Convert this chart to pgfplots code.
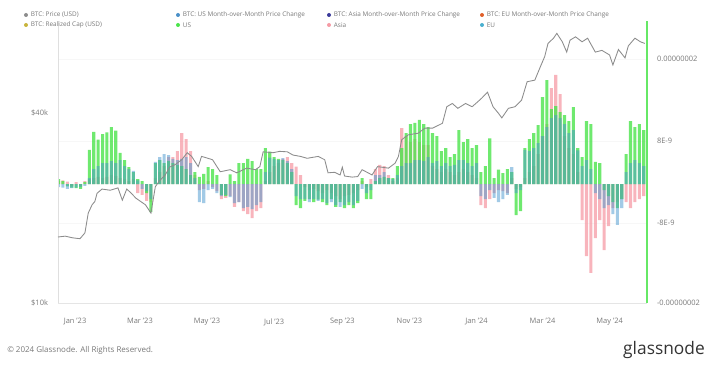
\documentclass[border=0pt]{standalone}
\usepackage{fontspec}
\setmainfont{Open Sans}
\usepackage{pgfplots}
\usepackage{pgfplotstable}
\pgfplotsset{compat=1.18}
\definecolor{usg}{RGB}{75,228,75}
\definecolor{asiap}{RGB}{245,155,165}
\definecolor{eub}{RGB}{70,150,205}
\definecolor{pricec}{RGB}{140,140,140}
\definecolor{rcap}{RGB}{200,180,60}
\definecolor{usmom}{RGB}{74,144,200}
\definecolor{asiamom}{RGB}{58,58,154}
\definecolor{eumom}{RGB}{224,96,42}
\definecolor{eudot}{RGB}{74,176,208}
\definecolor{txt}{RGB}{120,120,120}

\pgfplotstableread{
d us asia eu
-15 0.8 0.5 -0.5
-11 0.5 0.6 -0.6
-7 -0.4 0.4 -0.8
-3 -0.6 -0.3 -0.7
1 -0.7 0.3 -0.6
5 -0.8 -0.4 -0.5
9 0.3 0.5 -0.3
13 5.7 0.8 1.0
17 8.7 1.0 2.5
21 7.4 1.2 3.0
25 8.3 1.0 3.5
29 8.6 1.2 3.5
33 9.5 1.5 3.8
37 8.9 1.3 3.5
41 5.2 1.0 4.0
45 4.0 0.8 3.0
49 2.8 0.5 2.5
53 2.0 0.8 2.2
57 0.8 -1.5 0.6
61 0.5 -1.8 -0.8
65 -1.5 -2.8 -1.2
69 -4.7 -3.0 -2.5
73 3.5 1.0 3.7
77 4.0 2.0 4.5
81 3.5 3.0 5.0
85 3.8 4.5 4.8
89 3.5 4.5 4.2
93 3.2 5.5 4.0
97 3.0 8.5 4.2
101 2.5 7.5 4.5
105 1.5 5.5 3.5
109 2.0 1.5 1.0
113 1.2 -1.0 -3.0
117 1.7 -0.8 -3.2
121 2.8 0.5 -1.0
125 2.5 -0.5 -0.8
129 1.5 -1.2 -1.5
133 -1.8 -2.5 -2.0
137 -2.0 -2.3 -1.8
141 1.6 -2.0 -2.2
145 0.5 -3.8 -3.2
149 3.5 -3.0 -3.0
153 3.5 -4.5 -4.0
157 4.2 -5.0 -3.8
161 3.8 -5.7 -4.2
165 2.5 -4.5 -3.5
169 2.5 -4.0 -3.0
173 6.0 0.5 2.0
177 5.4 2.0 4.4
181 4.5 3.0 4.2
185 4.2 3.5 4.0
189 4.0 4.2 4.3
193 3.5 4.5 3.8
197 2.0 3.5 2.5
201 -3.5 2.9 -2.0
205 -4.0 1.5 -2.5
209 -2.8 -0.5 -2.5
213 -2.5 -1.0 -3.0
217 -3.0 -0.8 -2.5
221 -2.6 -1.2 -2.8
225 -3.0 -1.5 -2.5
229 -3.5 -1.0 -3.2
233 -2.5 -1.5 -3.0
237 -3.8 -2.0 -3.5
241 -3.0 -2.5 -3.8
245 -4.0 -2.0 -3.5
249 -3.5 -1.8 -3.0
253 -4.0 -1.5 -3.5
257 -3.2 -1.0 -2.8
261 1.0 0.5 -0.8
265 -2.5 -0.5 -1.5
269 -2.5 0.8 -1.0
273 0.5 2.5 1.5
277 1.0 3.2 1.5
281 1.2 3.0 2.0
285 1.0 1.5 1.0
289 1.0 0.5 0.8
293 3.0 1.0 1.5
297 6.0 9.3 3.0
301 8.5 8.0 3.5
305 10.0 7.0 3.5
309 10.2 7.5 4.0
313 10.7 7.0 4.0
317 10.0 6.5 3.8
321 9.5 6.5 4.5
325 8.5 3.0 3.5
329 8.0 2.5 3.8
333 5.5 2.0 3.0
337 6.0 2.5 3.5
341 4.5 2.0 3.0
345 5.0 1.5 3.2
349 9.0 2.0 4.0
353 7.0 2.5 4.0
357 7.5 2.0 3.5
361 6.0 1.5 3.0
365 6.5 1.0 3.5
369 2.0 -3.5 -2.0
373 3.0 -4.0 -2.5
377 7.6 -2.5 -1.0
381 1.0 -1.5 -2.3
385 2.4 -1.0 -3.0
389 1.8 -1.2 -2.5
393 2.5 -1.5 -1.8
397 2.0 1.0 2.8
401 -5.2 -0.8 -1.5
405 -4.5 -0.5 -1.0
409 6.0 1.0 5.7
413 7.5 2.0 5.5
417 8.5 3.0 6.0
421 9.8 5.0 6.8
425 14.5 8.0 8.0
429 17.3 10.0 9.5
433 12.5 16.0 11.0
437 13.0 18.2 11.5
441 12.0 15.0 11.0
445 11.5 8.0 10.0
449 10.5 6.0 8.5
453 12.8 5.0 9.0
457 6.0 2.0 5.6
461 4.5 -6.0 3.0
465 10.5 -12.0 4.0
469 10.0 -14.8 2.5
473 3.7 -9.0 -1.5
477 3.5 -6.0 -2.5
481 -1.0 -11.0 -4.0
485 -2.0 -7.0 -3.5
489 -3.0 -4.0 -5.0
493 -4.0 -3.0 -6.8
497 -2.5 -2.5 -4.0
501 5.0 -3.0 2.0
505 10.5 -4.0 3.5
509 9.5 -3.0 4.0
513 10.0 -2.5 3.5
517 9.0 -2.0 3.0
}\bars

\pgfplotstableread{
d p
-15.5 16200
-9 16300
-2 16100
4.5 16000
9 16700
12 19300
15.5 20500
18 21000
20 22300
24.5 23000
32 22800
39 23200
43 21200
47 23000
50 22500
55.5 21500
64 20500
69 19300
73 23400
77 24500
82 25500
86 27000
91 27500
97 28500
102 30000
106 29200
112 27100
115 29200
118 29000
125 28500
132 26100
141 26500
147 25900
156 26800
164 26500
168 27100
171 30200
180 30000
186 30300
193 30200
198 29500
205 29200
211 28800
221 29200
227 28500
230 25900
236 26000
241 25500
243 27000
245 25300
252 25100
257 25200
261 26500
270 25500
275 27100
285 26800
291 27800
294 29200
297 33000
303 34200
312 34600
318 35900
325 35900
334 37200
338 42000
343 43000
348 41500
355 43000
361 42000
366 43500
370 44800
375 46700
380 42000
385 40000
388 38700
394 41500
400 42000
406 44100
411 50400
418 51000
423 56200
427 60600
430 66700
435 69300
438 71800
443 67500
447 62600
450 68300
455 70000
461 67500
466 69300
473 62600
479 63400
486 61300
489 57000
494 63800
500 60000
503 65500
509 69300
514 67500
518 66700
}\price

\begin{document}
\begin{tikzpicture}[x=1pt,y=1pt]
\path[use as bounding box] (-43.5,-48.75) rectangle (495,227.25);
\begin{axis}[at={(0,0)}, anchor=south west, scale only axis,
  width=441.75pt, height=211.5pt,
  xmin=-15.5, xmax=520, ymin=-19.83, ymax=27.17,
  axis x line*=bottom, axis y line*=right,
  x axis line style={draw=gray!20,-},
  y axis line style={draw=usg!85, line width=0.8pt,-},
  xtick={0,59,120,181,243,304,365,425,486},
  xticklabels={Jan '23,Mar '23,May '23,Jul '23,Sep '23,Nov '23,Jan '24,Mar '24,May '24},
  ytick={-19.8,-6.5,7.17,20.83},
  yticklabels={-0.00000002,-8E-9,8E-9,0.00000002},
  major tick length=0pt,
  ticklabel style={font=\fontsize{5.6}{6}\selectfont, text=txt},
  xticklabel style={yshift=-8pt},
  yticklabel style={xshift=4pt},
  ymajorgrids, grid style={gray!6},
]
\addplot[ybar, bar width=2.8, bar shift=0pt, fill=asiap, fill opacity=0.75, draw=none] table[x=d,y=asia]{\bars};
\addplot[ybar, bar width=2.8, bar shift=0pt, fill=usg, fill opacity=0.8, draw=none] table[x=d,y=us]{\bars};
\addplot[ybar, bar width=2.8, bar shift=0pt, fill=eub, fill opacity=0.5, draw=none] table[x=d,y=eu]{\bars};
\end{axis}
\begin{axis}[at={(0,0)}, anchor=south west, scale only axis,
  width=441.75pt, height=211.5pt,
  xmin=-15.5, xmax=520, ymode=log, ymin=10000, ymax=78600,
  axis x line=none, axis y line*=left,
  y axis line style={draw=gray!25,-},
  ytick={10000,40000}, yticklabels={\$10k,\$40k},
  major tick length=0pt, minor tick length=0pt,
  ticklabel style={font=\fontsize{5.6}{6}\selectfont, text=txt},
  yticklabel style={xshift=-4pt},
]
\addplot[pricec, line width=0.65pt] table[x=d,y=p]{\price};
\end{axis}
% legend
\begin{scope}[every node/.style={font=\fontsize{4.8}{5}\selectfont, text=txt, anchor=west, inner sep=0pt}]
\fill[pricec] (-24,216) circle (1.5); \node at (-20.5,216) {BTC: Price (USD)};
\fill[rcap] (-24,208.5) circle (1.5); \node at (-20.5,208.5) {BTC: Realized Cap (USD)};
\fill[usmom] (90,216) circle (1.5); \node at (93.5,216) {BTC: US Month-over-Month Price Change};
\fill[usg] (90,208.5) circle (1.5); \node at (93.5,208.5) {US};
\fill[asiamom] (203.25,216) circle (1.5); \node at (206.75,216) {BTC: Asia Month-over-Month Price Change};
\fill[asiap] (203.25,208.5) circle (1.5); \node at (206.75,208.5) {Asia};
\fill[eumom] (318,216) circle (1.5); \node at (321.5,216) {BTC: EU Month-over-Month Price Change};
\fill[eudot] (318,208.5) circle (1.5); \node at (321.5,208.5) {EU};
\end{scope}
\node[anchor=west, inner sep=0pt, font=\fontsize{6}{7}\selectfont, text=txt] at (-38.25,-35.25) {© 2024 Glassnode. All Rights Reserved.};
\node[inner sep=0pt, font=\fontsize{13}{14}\selectfont, text=black!80] at (454.5,-35.25) {glassnode};
\end{tikzpicture}
\end{document}
